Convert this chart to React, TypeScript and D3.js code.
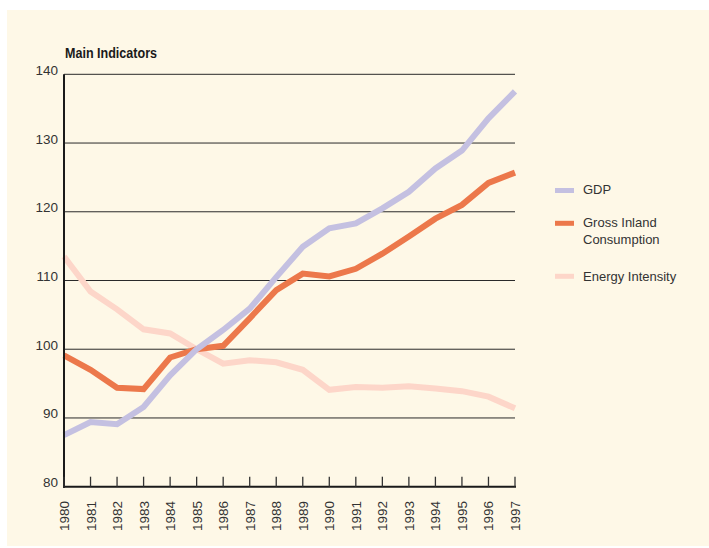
import React, { FC, useMemo } from 'react'
import * as d3 from 'd3'

const years = [
	1980, 1981, 1982, 1983, 1984, 1985, 1986, 1987, 1988, 1989, 1990, 1991,
	1992, 1993, 1994, 1995, 1996, 1997
]
const gdp = [
	87.5, 89.4, 89.1, 91.6, 96.2, 100, 102.8, 105.9, 110.5, 114.9, 117.6,
	118.3, 120.5, 122.9, 126.3, 128.9, 133.6, 137.5
]
const grossInland = [
	99.1, 97.0, 94.4, 94.2, 98.8, 100, 100.5, 104.5, 108.6, 111.0, 110.6,
	111.7, 113.9, 116.4, 119.0, 121.0, 124.2, 125.7
]
const energyIntensity = [
	113.5, 108.4, 105.8, 102.9, 102.3, 100, 97.9, 98.4, 98.1, 97.0, 94.1,
	94.5, 94.4, 94.6, 94.3, 93.9, 93.1, 91.4
]
const yTicks = [80, 90, 100, 110, 120, 130, 140]

const W = 709
const H = 548
const font = '"Liberation Sans", Arial, sans-serif'

const series = [
	{ name: ['GDP'], values: gdp, color: '#c4c0e1', ly: 190.5, ty: 194 },
	{
		name: ['Gross Inland', 'Consumption'],
		values: grossInland,
		color: '#ec784b',
		ly: 223.3,
		ty: 227
	},
	{
		name: ['Energy Intensity'],
		values: energyIntensity,
		color: '#fdd6c9',
		ly: 276.3,
		ty: 281
	}
]

const App: FC = () => {
	const x = useMemo(
		() =>
			d3
				.scaleLinear()
				.domain([years[0], years[years.length - 1]])
				.range([64, 515]),
		[]
	)
	const y = useMemo(
		() => d3.scaleLinear().domain([80, 140]).range([486.7, 74.3]),
		[]
	)

	const line = (vals: number[]) =>
		d3
			.line<number>()
			.x((_, i) => x(years[i]))
			.y((d) => y(d))(vals) || ''

	return (
		<svg
			width={W}
			height={H}
			style={{ position: 'fixed', left: 0, top: 0 }}
			fontFamily={font}
		>
			<rect x={0} y={0} width={W} height={H} fill="#ffffff" />
			<rect x={7} y={10} width={W - 7} height={536} fill="#fef8e7" />

			{/* title */}
			<text
				x={65}
				y={58}
				fontSize={15.5}
				fontWeight="bold"
				fill="#1a1a1a"
				textLength={92}
				lengthAdjust="spacingAndGlyphs"
			>
				Main Indicators
			</text>

			{/* grid + y labels */}
			{yTicks.map((t) => (
				<g key={t}>
					{t > 80 && (
						<line
							x1={x(years[0])}
							x2={x(years[years.length - 1])}
							y1={y(t)}
							y2={y(t)}
							stroke="#2a2a2a"
							strokeWidth={1}
						/>
					)}
					<text
						x={58}
						y={y(t) + 0.5}
						fontSize={13.5}
						textAnchor="end"
						fill="#333"
					>
						{t}
					</text>
				</g>
			))}

			{/* series */}
			{[...series].reverse().map((s) => (
				<path
					key={s.name[0]}
					d={line(s.values)}
					fill="none"
					stroke={s.color}
					strokeWidth={6}
					strokeLinejoin="miter"
				/>
			))}

			{/* axes */}
			<line
				x1={x(years[0])}
				x2={x(years[0])}
				y1={y(140)}
				y2={y(80) + 1}
				stroke="#1a1a1a"
				strokeWidth={2}
			/>
			<line
				x1={x(years[0]) - 1}
				x2={x(years[years.length - 1]) + 1}
				y1={y(80)}
				y2={y(80)}
				stroke="#1a1a1a"
				strokeWidth={2}
			/>
			{years.map((yr) => (
				<g key={yr}>
					<line
						x1={x(yr)}
						x2={x(yr)}
						y1={y(80)}
						y2={y(80) - 10}
						stroke="#333"
						strokeWidth={1.3}
					/>
					<text
						transform={`translate(${x(yr) + 5},501) rotate(-90)`}
						fontSize={13.5}
						textAnchor="end"
						fill="#333"
					>
						{yr}
					</text>
				</g>
			))}

			{/* legend */}
			{series.map((s) => (
				<g key={s.name[0]}>
					<line
						x1={555}
						x2={574}
						y1={s.ly}
						y2={s.ly}
						stroke={s.color}
						strokeWidth={5}
					/>
					{s.name.map((n, i) => (
						<text
							key={n}
							x={583}
							y={s.ty + i * 16.5}
							fontSize={13}
							fill="#333"
						>
							{n}
						</text>
					))}
				</g>
			))}
		</svg>
	)
}

export default App
